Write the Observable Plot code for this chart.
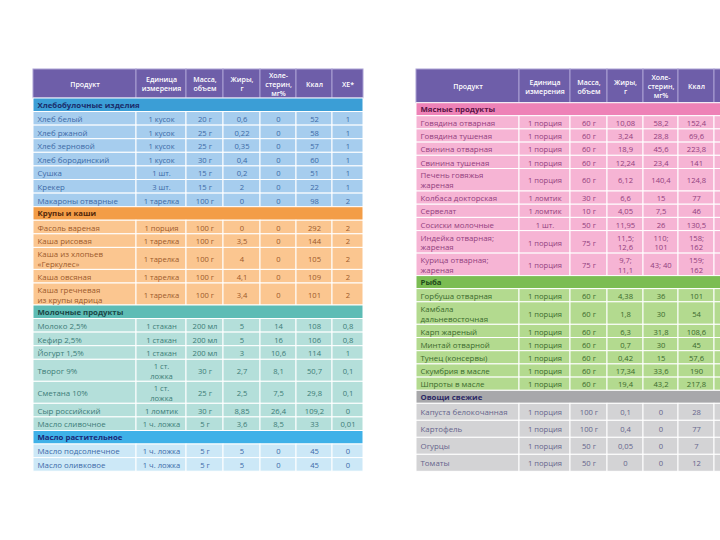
<!DOCTYPE html>
<html><head><meta charset="utf-8">
<script src="https://cdn.jsdelivr.net/npm/d3@7"></script>
<script src="https://cdn.jsdelivr.net/npm/@observablehq/plot@0.6"></script>
<style>html,body{margin:0;padding:0;background:#fff;overflow:hidden;width:720px;height:540px}</style>
</head><body><div id="chart"></div>
<script>
// ---------- DATA ----------
const headers = ["Продукт", "Единица\nизмерения", "Масса,\nобъем", "Жиры,\nг", "Холе-\nстерин,\nмг%", "Ккал", "ХЕ*"];

const sectionsL = ["Хлебобулочные изделия", "Крупы и каши", "Молочные продукты", "Масло растительное"];
const productsL = ["Хлеб белый","Хлеб ржаной","Хлеб зерновой","Хлеб бородинский","Сушка","Крекер","Макароны отварные",
  "Фасоль вареная","Каша рисовая","Каша из хлопьев\n«Геркулес»","Каша овсяная","Каша гречневая\nиз крупы ядрица",
  "Молоко 2,5%","Кефир 2,5%","Йогурт 1,5%","Творог 9%","Сметана 10%","Сыр российский","Масло сливочное",
  "Масло подсолнечное","Масло оливковое"];
const sectionOfL = [0,0,0,0,0,0,0, 1,1,1,1,1, 2,2,2,2,2,2,2, 3,3];
const unitsL = ["1 кусок","1 кусок","1 кусок","1 кусок","1 шт.","3 шт.","1 тарелка",
  "1 порция","1 тарелка","1 тарелка","1 тарелка","1 тарелка",
  "1 стакан","1 стакан","1 стакан","1 ст.\nложка","1 ст.\nложка","1 ломтик","1 ч. ложка",
  "1 ч. ложка","1 ч. ложка"];
const massL = ["20 г","25 г","25 г","30 г","15 г","15 г","100 г",
  "100 г","100 г","100 г","100 г","100 г",
  "200 мл","200 мл","200 мл","30 г","25 г","30 г","5 г",
  "5 г","5 г"];
const fatL = ["0,6","0,22","0,35","0,4","0,2","2","0", "0","3,5","4","4,1","3,4",
  "5","5","3","2,7","2,5","8,85","3,6", "5","5"];
const cholL = ["0","0","0","0","0","0","0", "0","0","0","0","0",
  "14","16","10,6","8,1","7,5","26,4","8,5", "0","0"];
const kcalL = ["52","58","57","60","51","22","98", "292","144","105","109","101",
  "108","106","114","50,7","29,8","109,2","33", "45","45"];
const xeL = ["1","1","1","1","1","1","2", "2","2","2","2","2",
  "0,8","0,8","1","0,1","0,1","0","0,01", "0","0"];

const sectionsR = ["Мясные продукты", "Рыба", "Овощи свежие"];
const productsR = ["Говядина отварная","Говядина тушеная","Свинина отварная","Свинина тушеная","Печень говяжья\nжареная",
  "Колбаса докторская","Сервелат","Сосиски молочные","Индейка отварная;\nжареная","Курица отварная;\nжареная",
  "Горбуша отварная","Камбала\nдальневосточная","Карп жареный","Минтай отварной","Тунец (консервы)","Скумбрия в масле","Шпроты в масле",
  "Капуста белокочанная","Картофель","Огурцы","Томаты"];
const sectionOfR = [0,0,0,0,0,0,0,0,0,0, 1,1,1,1,1,1,1, 2,2,2,2];
const unitsR = ["1 порция","1 порция","1 порция","1 порция","1 порция","1 ломтик","1 ломтик","1 шт.","1 порция","1 порция",
  "1 порция","1 порция","1 порция","1 порция","1 порция","1 порция","1 порция",
  "1 порция","1 порция","1 порция","1 порция"];
const massR = ["60 г","60 г","60 г","60 г","60 г","30 г","10 г","50 г","75 г","75 г",
  "60 г","60 г","60 г","60 г","60 г","60 г","60 г",
  "100 г","100 г","50 г","50 г"];
const fatR = ["10,08","3,24","18,9","12,24","6,12","6,6","4,05","11,95","11,5;\n12,6","9,7;\n11,1",
  "4,38","1,8","6,3","0,7","0,42","17,34","19,4",
  "0,1","0,4","0,05","0"];
const cholR = ["58,2","28,8","45,6","23,4","140,4","15","7,5","26","110;\n101","43; 40",
  "36","30","31,8","30","15","33,6","43,2",
  "0","0","0","0"];
const kcalR = ["152,4","69,6","223,8","141","124,8","77","46","130,5","158;\n162","159;\n162",
  "101","54","108,6","45","57,6","190","217,8",
  "28","77","7","12"];
const xeR = productsR.map(() => ""); // column cut off at the picture edge

// ---------- STYLE / LAYOUT ----------
const W = 720, H = 540;
const headerFill = "#6e5ea9";
const themesL = [
  {sec: "#3b9ed6", secText: "#1a2c6a", row: "#a6cdee", text: "#3d6aa6"},
  {sec: "#f39d47", secText: "#55290b", row: "#fbc690", text: "#9c5a2c"},
  {sec: "#5dbcb5", secText: "#1b4848", row: "#b4dfda", text: "#3c7c77"},
  {sec: "#3fb1e8", secText: "#1a2a78", row: "#cce8f7", text: "#3d6aa8"}
];
const themesR = [
  {sec: "#ee82b7", secText: "#5a1446", row: "#f6b4d4", text: "#923f7e"},
  {sec: "#7bbd53", secText: "#1f4a1a", row: "#b3da8f", text: "#3b6a2e"},
  {sec: "#a8a8ab", secText: "#2d2a66", row: "#d3d3d5", text: "#66658c"}
];

function buildTable(t) {
  const cells = [], texts = [];
  let y = t.top;
  for (let c = 0; c < 7; c++) {
    cells.push({x1: t.edges[c], x2: t.edges[c+1], y1: y, y2: y + t.headerH, fill: headerFill, stroke: "#aaa0d4"});
    const cx = (t.edges[c] + t.edges[c+1]) / 2;
    if (cx < W) texts.push({x: cx, y: y + t.headerH / 2, text: headers[c], color: "#ffffff", kind: "header"});
  }
  y += t.headerH;
  let prevSec = -1;
  t.products.forEach((p, i) => {
    const s = t.sectionOf[i], th = t.themes[s];
    if (s !== prevSec) {
      cells.push({x1: t.edges[0], x2: t.edges[7], y1: y, y2: y + t.secH, fill: th.sec, stroke: "#ffffff"});
      texts.push({x: t.edges[0] + 4, y: y + t.secH / 2, text: t.sections[s], color: th.secText, kind: "section"});
      y += t.secH;
      prevSec = s;
    }
    const vals = [p, t.units[i], t.mass[i], t.fat[i], t.chol[i], t.kcal[i], t.xe[i]];
    const dbl = vals.some(v => v.includes("\n"));
    const h = dbl ? t.dblH : t.rowH[s];
    vals.forEach((v, c) => {
      cells.push({x1: t.edges[c], x2: t.edges[c+1], y1: y, y2: y + h, fill: th.row, stroke: "#ffffff"});
      if (v) texts.push({x: c === 0 ? t.edges[0] + 4 : (t.edges[c] + t.edges[c+1]) / 2, y: y + h / 2, text: v, color: th.text, kind: c === 0 ? "product" : "value"});
    });
    y += h;
  });
  return {cells, texts};
}

const L = buildTable({top: 69, headerH: 29, secH: 13.5, rowH: [13.6, 13.6, 13.6, 13.6], dblH: 22,
  edges: [33, 136, 186, 223, 260, 296, 332, 363],
  sections: sectionsL, products: productsL, sectionOf: sectionOfL, themes: themesL,
  units: unitsL, mass: massL, fat: fatL, chol: cholL, kcal: kcalL, xe: xeL});
const R = buildTable({top: 69, headerH: 33.7, secH: 13, rowH: [13.2, 13.2, 17], dblH: 22.5,
  edges: [416, 519, 570, 607, 643, 678, 714, 750],
  sections: sectionsR, products: productsR, sectionOf: sectionOfR, themes: themesR,
  units: unitsR, mass: massR, fat: fatR, chol: cholR, kcal: kcalR, xe: xeR});

const cells = [...L.cells, ...R.cells];
const texts = [...L.texts, ...R.texts];
const font = "'Open Sans', 'Noto Sans', sans-serif";

const chart = Plot.plot({
  width: W, height: H,
  margin: 0,
  x: {domain: [0, W], range: [0, W], axis: null},
  y: {domain: [0, H], range: [0, H], axis: null},
  color: {type: "identity"},
  style: {fontFamily: font, overflow: "hidden", background: "#ffffff"},
  marks: [
    Plot.rect(cells, {x1: "x1", x2: "x2", y1: "y1", y2: "y2", fill: "fill", stroke: "stroke", strokeWidth: 1}),
    Plot.text(texts.filter(d => d.kind === "header"), {x: "x", y: "y", text: "text", fill: "color", fontSize: 7, fontWeight: 600, lineHeight: 1.25}),
    Plot.text(texts.filter(d => d.kind === "section"), {x: "x", y: "y", text: "text", fill: "color", fontSize: 7.8, fontWeight: 700, textAnchor: "start"}),
    Plot.text(texts.filter(d => d.kind === "product"), {x: "x", y: "y", text: "text", fill: "color", fontSize: 7.9, textAnchor: "start", lineHeight: 1.25}),
    Plot.text(texts.filter(d => d.kind === "value"), {x: "x", y: "y", text: "text", fill: "color", fontSize: 7.6, lineHeight: 1.3})
  ]
});
document.getElementById("chart").appendChild(chart);
</script>
</body></html>
